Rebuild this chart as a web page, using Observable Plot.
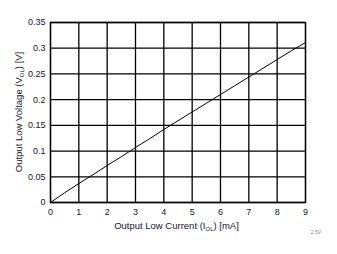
<!DOCTYPE html>
<html><head><meta charset="utf-8">
<script src="https://cdn.jsdelivr.net/npm/d3@7"></script>
<script src="https://cdn.jsdelivr.net/npm/@observablehq/plot@0.6"></script>
<style>body{margin:0;background:#fff}</style>
</head><body><div id="chart"></div>
<script>
const currents = [0, 0.5, 1, 1.5, 2, 2.5, 3, 3.5, 4, 4.5, 5, 5.5, 6, 6.5, 7, 7.5, 8, 8.5, 9];
const voltages = [0, 0.019, 0.037, 0.054, 0.072, 0.089, 0.107, 0.124, 0.142, 0.159, 0.176, 0.193, 0.210, 0.227, 0.244, 0.261, 0.278, 0.295, 0.311];
const xTicks = [0,1,2,3,4,5,6,7,8,9];
const yTicks = [0,0.05,0.1,0.15,0.2,0.25,0.3,0.35];
const yTickLabels = ["0","0.05","0.1","0.15","0.2","0.25","0.3","0.35"];
const data = currents.map((c,i)=>({c, v: voltages[i]}));

const W=337,H=254,ml=50,mr=32,mt=22,mb=52;
const textColor = "#15152a";
const chart = Plot.plot({
  width:W, height:H, marginLeft:ml, marginRight:mr, marginTop:mt, marginBottom:mb,
  style:{fontFamily:"'Liberation Sans', Arial, sans-serif", fontSize:"9px", color:textColor, background:"#fff"},
  x:{domain:[0,9], ticks:xTicks, label:null, tickSize:0, tickPadding:6},
  y:{domain:[0,0.35], ticks:yTicks, label:null, tickSize:0, tickPadding:5, tickFormat:(d)=>yTickLabels[yTicks.indexOf(d)]},
  marks:[
    Plot.gridX(xTicks,{stroke:"#000", strokeOpacity:1, strokeWidth:1.3}),
    Plot.gridY(yTicks,{stroke:"#000", strokeOpacity:1, strokeWidth:1.3}),
    Plot.frame({stroke:"#000", strokeWidth:1.3}),
    Plot.line(data,{x:"c", y:"v", stroke:"#000", strokeWidth:1}),
    Plot.axisX({ticks:xTicks, tickSize:0, tickPadding:6, label:null, fill:textColor}),
    Plot.axisY({ticks:yTicks, tickSize:0, tickPadding:5, label:null, fill:textColor, tickFormat:(d)=>yTickLabels[yTicks.indexOf(d)]})
  ]
});
document.getElementById("chart").appendChild(chart);
const svg = d3.select(chart);
const ff = "'Liberation Sans', Arial, sans-serif";
const xl = svg.append("text").attr("x", 176.5).attr("y", 229).attr("text-anchor","middle")
  .attr("font-family",ff).attr("font-size","9.5px").attr("fill",textColor);
xl.append("tspan").text("Output Low Current (I");
xl.append("tspan").attr("font-size","6px").attr("dy","2").text("OL");
xl.append("tspan").attr("dy","-2").text(") [mA]");
const yl = svg.append("text").attr("transform",`translate(21.5,112) rotate(-90)`).attr("text-anchor","middle")
  .attr("font-family",ff).attr("font-size","9.5px").attr("fill",textColor);
yl.append("tspan").text("Output Low Voltage (V");
yl.append("tspan").attr("font-size","6px").attr("dy","2").text("OL");
yl.append("tspan").attr("dy","-2").text(") [V]");
svg.append("text").attr("x",316).attr("y",234).attr("text-anchor","middle")
  .attr("font-family",ff).attr("font-size","5px").attr("fill","#888").text("2.5V");
</script>
</body></html>
